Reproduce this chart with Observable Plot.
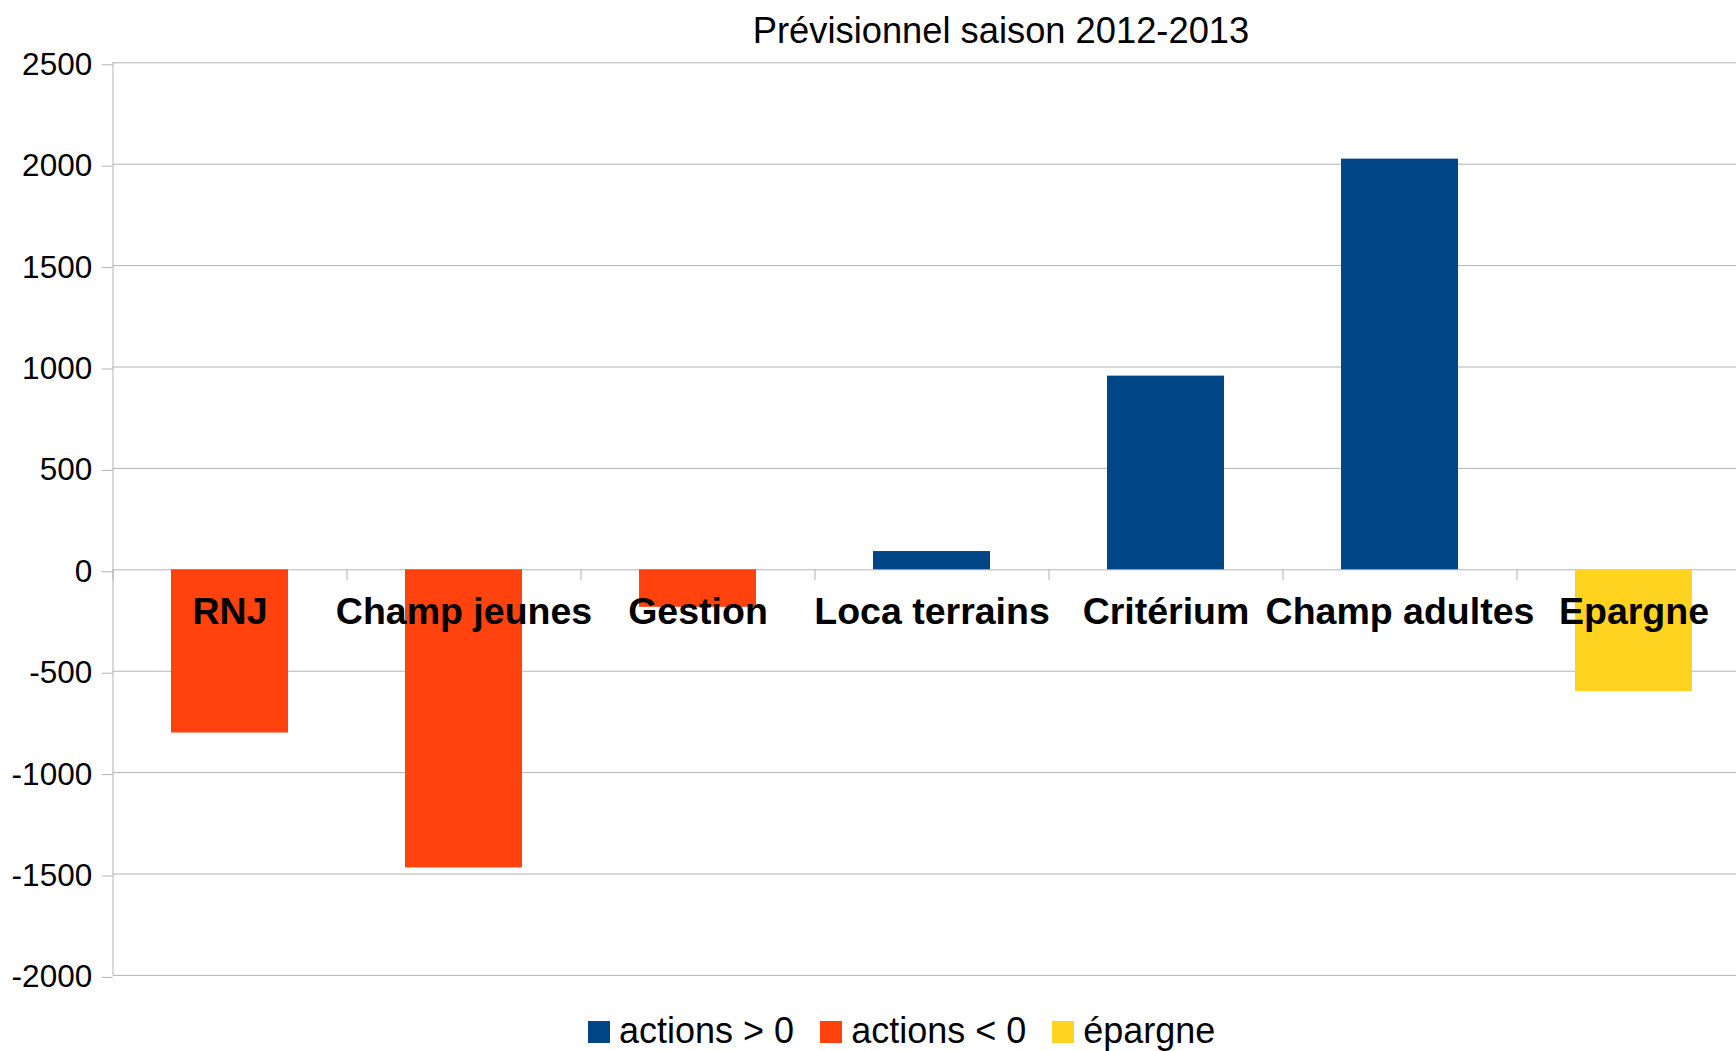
<!DOCTYPE html>
<html><head><meta charset="utf-8">
<script src="https://cdn.jsdelivr.net/npm/d3@7"></script>
<script src="https://cdn.jsdelivr.net/npm/@observablehq/plot@0.6"></script>
<style>
html,body{margin:0;padding:0;background:#fff;overflow:hidden;}
body{font-family:"Liberation Sans", Arial, sans-serif;color:#000;width:1736px;height:1051px;}
#title{position:relative;height:40px;}
#title span{position:absolute;left:1001px;top:10px;transform:translateX(-50%);font-size:36.3px;white-space:nowrap;line-height:normal;}
#legend{position:relative;height:51px;}
#legend .inner{position:absolute;left:588px;top:10px;font-size:36px;white-space:nowrap;display:flex;align-items:baseline;gap:26px;line-height:normal;}
#legend .sw{display:inline-block;width:22px;height:22px;margin-right:9px;vertical-align:baseline;}
#chart svg{display:block;}
</style></head>
<body>
<div id="title"><span></span></div>
<div id="chart"></div>
<div id="legend"><div class="inner"></div></div>
<script>
const titleText = "Prévisionnel saison 2012-2013";
const categories = ["RNJ", "Champ jeunes", "Gestion", "Loca terrains", "Critérium", "Champ adultes", "Epargne"];
const values = [-805, -1470, -185, 90, 955, 2025, -600];
const seriesOf = ["actions < 0", "actions < 0", "actions < 0", "actions > 0", "actions > 0", "actions > 0", "épargne"];
const seriesNames = ["actions > 0", "actions < 0", "épargne"];
const seriesColors = ["#004586", "#ff420e", "#ffd320"];
const yTicks = [-2000, -1500, -1000, -500, 0, 500, 1000, 1500, 2000, 2500];

const data = categories.map((c, i) => ({category: c, value: values[i], series: seriesOf[i]}));

const W = 1736, H = 960;
const mLeft = 112.7, mTop = 22.3, mBottom = 25.1;
const xRange = [112.7, 1750.7];
const step = (xRange[1] - xRange[0]) / categories.length;
const unitsPerPx = (2500 - (-2000)) / (H - mTop - mBottom);
const tickLenPx = 11;

document.querySelector("#title span").textContent = titleText;

const plot = Plot.plot({
  width: W, height: H,
  marginLeft: mLeft, marginRight: 0, marginTop: mTop, marginBottom: mBottom,
  style: {fontFamily: "'Liberation Sans', Arial, sans-serif", fontSize: "31px", color: "#000", background: "#fff", overflow: "hidden"},
  x: {type: "band", domain: categories, range: xRange, paddingInner: 0.5, paddingOuter: 0.25, axis: null},
  y: {domain: [-2000, 2500], axis: null},
  color: {domain: seriesNames, range: seriesColors},
  marks: [
    Plot.gridY(yTicks, {stroke: "#b3b3b3", strokeOpacity: 1}),
    Plot.axisY(yTicks, {label: null, tickSize: 11, tickPadding: 10, stroke: "#b3b3b3", fill: "#000", tickFormat: d => String(d), fontSize: 31.5, dy: 2}),
    Plot.ruleX([categories[0]], {x: d => d, dx: -step / 2, stroke: "#b3b3b3"}),
    Plot.ruleX(categories, {x: d => d, y1: 0, y2: -tickLenPx * unitsPerPx, dx: -step / 2, stroke: "#b3b3b3"}),
    Plot.barY(data, {x: "category", y: "value", fill: "series"}),
    Plot.text(data, {x: "category", y: 0, text: "category", fontSize: 37.5, fontWeight: "bold", fill: "#000", dy: 42})
  ]
});
document.getElementById("chart").appendChild(plot);

const inner = document.querySelector("#legend .inner");
seriesNames.forEach((name, i) => {
  const item = document.createElement("span");
  const sw = document.createElement("span");
  sw.className = "sw";
  sw.style.background = seriesColors[i];
  item.appendChild(sw);
  item.appendChild(document.createTextNode(name));
  inner.appendChild(item);
});
</script>
</body></html>
